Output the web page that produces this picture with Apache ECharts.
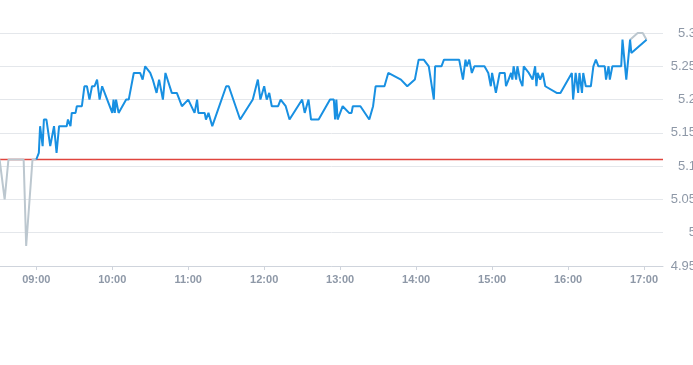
<!DOCTYPE html>
<html>
<head>
<meta charset="utf-8">
<script src="https://cdn.jsdelivr.net/npm/echarts@6/dist/echarts.min.js"></script>
<style>html,body{margin:0;padding:0;background:#fff}#c{width:693px;height:365px}</style>
</head>
<body>
<div id="c"></div>
<script>
const hourTicks = ['09:00','10:00','11:00','12:00','13:00','14:00','15:00','16:00','17:00'];
const preClose = 5.11;
const grayTimes = ['08:31','08:35','08:38','08:50','08:52','08:57','09:00'];
const grayValues = [5.11,5.05,5.11,5.11,4.98,5.11,5.11];
const grayEndTimes = ['16:49','16:55','16:59','17:02'];
const grayEndValues = [5.29,5.30,5.30,5.29];
const times = ['09:00','09:02','09:03','09:05','09:06','09:08','09:11','09:14','09:16','09:18','09:24','09:25','09:27','09:28','09:31','09:32','09:36','09:38','09:40','09:42','09:44','09:46','09:48','09:49','09:50','09:52','09:56','10:00','10:01','10:02','10:03','10:05','10:11','10:13','10:17','10:22','10:24','10:26','10:30','10:32','10:35','10:37','10:40','10:42','10:47','10:51','10:55','11:00','11:05','11:07','11:08','11:13','11:14','11:16','11:19','11:30','11:32','11:41','11:51','11:55','11:57','12:00','12:02','12:04','12:06','12:11','12:13','12:17','12:20','12:30','12:32','12:35','12:37','12:43','12:52','12:55','12:56','12:57','12:58','13:02','13:07','13:09','13:10','13:16','13:23','13:26','13:28','13:35','13:38','13:48','13:53','13:59','14:02','14:06','14:10','14:14','14:15','14:20','14:22','14:34','14:37','14:39','14:40','14:42','14:44','14:46','14:54','14:57','14:59','15:00','15:03','15:06','15:10','15:11','15:13','15:15','15:16','15:17','15:19','15:20','15:22','15:24','15:25','15:29','15:32','15:34','15:35','15:36','15:38','15:40','15:42','15:51','15:54','16:03','16:04','16:06','16:08','16:09','16:11','16:12','16:14','16:18','16:20','16:22','16:24','16:29','16:30','16:32','16:33','16:35','16:42','16:43','16:46','16:49','16:50','17:02'];
const prices = [5.11,5.12,5.16,5.13,5.17,5.17,5.13,5.16,5.12,5.16,5.16,5.17,5.16,5.18,5.18,5.19,5.19,5.22,5.22,5.20,5.22,5.22,5.23,5.23,5.20,5.22,5.20,5.18,5.20,5.18,5.20,5.18,5.20,5.20,5.24,5.24,5.23,5.25,5.24,5.23,5.21,5.23,5.20,5.24,5.21,5.21,5.19,5.20,5.18,5.20,5.18,5.18,5.17,5.18,5.16,5.22,5.22,5.17,5.20,5.23,5.20,5.22,5.20,5.21,5.19,5.19,5.20,5.19,5.17,5.20,5.18,5.20,5.17,5.17,5.20,5.20,5.17,5.20,5.17,5.19,5.18,5.18,5.19,5.19,5.17,5.19,5.22,5.22,5.24,5.23,5.22,5.23,5.26,5.26,5.25,5.20,5.25,5.25,5.26,5.26,5.23,5.26,5.25,5.26,5.24,5.25,5.25,5.24,5.22,5.24,5.21,5.24,5.24,5.22,5.23,5.24,5.23,5.25,5.23,5.25,5.23,5.22,5.25,5.24,5.23,5.25,5.22,5.24,5.23,5.24,5.22,5.21,5.21,5.24,5.20,5.24,5.21,5.24,5.21,5.24,5.22,5.22,5.25,5.26,5.25,5.25,5.23,5.25,5.23,5.25,5.25,5.29,5.23,5.29,5.27,5.29];

function toMin(s){const p=s.split(':');return (+p[0])*60+(+p[1]);}
function fmt(v){const h=Math.floor(v/60),m=Math.round(v%60);return String(h).padStart(2,'0')+':'+String(m).padStart(2,'0');}
const pair = (ts, vs) => ts.map((t,i)=>[toMin(t), vs[i]]);
const tickVals = hourTicks.map(toMin);
const xMin = 511.33, xMax = 1035;

const chart = echarts.init(document.getElementById('c'), null, {renderer:'canvas'});
const font = 'Liberation Sans, Arial, sans-serif';
chart.setOption({
  animation:false,
  grid:{left:0,right:30,top:33,bottom:99,containLabel:false,outerBoundsMode:'none'},
  xAxis:{
    type:'value', min:xMin, max:xMax,
    splitLine:{show:false},
    axisLine:{lineStyle:{color:'#cfd4dc',width:1}},
    axisTick:{show:true,length:4,customValues:tickVals,lineStyle:{color:'#cfd4dc'}},
    axisLabel:{customValues:tickVals,formatter:fmt,color:'#8e98a7',fontSize:11,fontWeight:'bold',fontFamily:font,margin:8}
  },
  yAxis:{
    type:'value', position:'right', min:4.95, max:5.3, interval:0.05,
    axisLine:{show:false}, axisTick:{show:false},
    splitLine:{lineStyle:{color:'#e4e7eb',width:1}},
    axisLabel:{color:'#8e98a7',fontSize:13,fontFamily:font,margin:33,align:'right'}
  },
  series:[
    {type:'line',data:[[xMin,preClose],[xMax,preClose]],showSymbol:false,symbol:'none',color:'#e0453e',itemStyle:{color:'#e0453e'},lineStyle:{color:'#e0453e',width:1.3,opacity:1},z:1,silent:true},
    {type:'line',data:pair(grayTimes,grayValues),showSymbol:false,symbol:'none',color:'#bcc7cf',lineStyle:{color:'#bcc7cf',width:2},z:2},
    {type:'line',data:pair(grayEndTimes,grayEndValues),showSymbol:false,symbol:'none',color:'#bcc7cf',lineStyle:{color:'#bcc7cf',width:2},z:2},
    {type:'line',data:pair(times,prices),showSymbol:false,symbol:'none',color:'#1890e2',lineStyle:{color:'#1890e2',width:2},z:3}
  ]
});
</script>
</body>
</html>
